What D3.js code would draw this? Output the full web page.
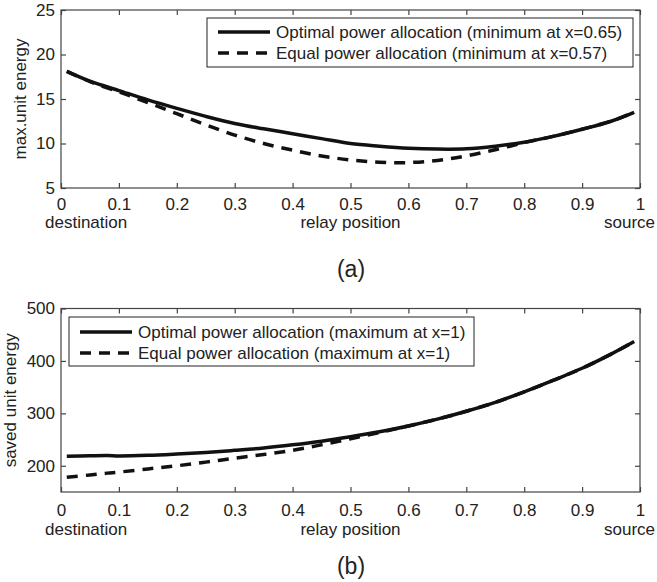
<!DOCTYPE html>
<html>
<head>
<meta charset="utf-8">
<script src="https://cdn.jsdelivr.net/npm/d3@7"></script>
<style>
  html, body { margin: 0; padding: 0; background: #fff; }
  svg { display: block; }
  text { font-family: "Liberation Sans", Arial, Helvetica, sans-serif; fill: #222; }
</style>
</head>
<body>
<svg id="chart" width="657" height="582"></svg>
<script>
// ---- Data ----
const xTicks = [0, 0.1, 0.2, 0.3, 0.4, 0.5, 0.6, 0.7, 0.8, 0.9, 1];
const xTickLabels = ["0", "0.1", "0.2", "0.3", "0.4", "0.5", "0.6", "0.7", "0.8", "0.9", "1"];

// Panel (a): max. unit energy
const aX = [0.01, 0.05, 0.1, 0.15, 0.2, 0.25, 0.3, 0.35, 0.4, 0.45, 0.5, 0.55, 0.6, 0.65, 0.7, 0.75, 0.8, 0.85, 0.9, 0.95, 0.99];
const aOptimal = [18.1, 17.0, 15.95, 14.9, 13.95, 13.05, 12.25, 11.65, 11.1, 10.55, 10.0, 9.7, 9.47, 9.37, 9.4, 9.7, 10.15, 10.8, 11.6, 12.5, 13.5];
const aEqual   = [18.1, 16.95, 15.8, 14.6, 13.35, 12.1, 10.95, 10.0, 9.25, 8.6, 8.15, 7.9, 7.86, 8.1, 8.6, 9.3, 10.1, 10.8, 11.6, 12.5, 13.5];
const aYTicks = [5, 10, 15, 20, 25];
const aLegend = ["Optimal power allocation (minimum at x=0.65)", "Equal power allocation (minimum at x=0.57)"];

// Panel (b): saved unit energy
const bX = [0.01, 0.05, 0.08, 0.1, 0.15, 0.2, 0.25, 0.3, 0.35, 0.4, 0.45, 0.5, 0.55, 0.6, 0.65, 0.7, 0.75, 0.8, 0.85, 0.9, 0.95, 0.99];
const bOptimal = [218, 219, 219.5, 218.8, 220, 222.5, 225.5, 229.5, 234, 240, 247, 255.5, 265, 276, 289, 304, 321, 341, 363, 386, 413, 437];
const bEqual   = [178, 182.5, 186, 188, 194, 200, 207, 214.5, 221.5, 229.5, 240, 251.5, 263.5, 276, 289, 304, 321, 341, 363, 386, 413, 437];
const bYTicks = [200, 300, 400, 500];
const bLegend = ["Optimal power allocation (maximum at x=1)", "Equal power allocation (maximum at x=1)"];

const svg = d3.select("#chart");
const FS = 17;

function panel(cfg) {
  const x = d3.scaleLinear().domain([0, 1]).range([61, 640]);
  const y = d3.scaleLinear().domain(cfg.yDomain).range([cfg.bottom, cfg.top]);
  const g = svg.append("g");

  g.append("rect").attr("x", x(0)).attr("y", cfg.top)
    .attr("width", x(1) - x(0)).attr("height", cfg.bottom - cfg.top)
    .attr("fill", "none").attr("stroke", "#444").attr("stroke-width", 1.2);

  const tl = 5;
  const xb = g.append("g").attr("transform", `translate(0,${cfg.bottom})`)
    .call(d3.axisBottom(x).tickValues(xTicks).tickSize(-tl).tickPadding(0)
      .tickFormat((d, i) => xTickLabels[i]));
  xb.select(".domain").remove();
  xb.selectAll("line").attr("stroke", "#444").attr("stroke-width", 1.2);
  xb.selectAll("text").attr("y", cfg.xLabelBase - cfg.bottom).attr("dy", 0)
    .attr("font-size", FS).style("fill", "#222")
    .attr("font-family", '"Liberation Sans", Arial, sans-serif');
  const xt = g.append("g").attr("transform", `translate(0,${cfg.top})`)
    .call(d3.axisTop(x).tickValues(xTicks).tickSize(-tl).tickFormat(""));
  xt.select(".domain").remove();
  xt.selectAll("line").attr("stroke", "#444").attr("stroke-width", 1.2);

  const yl = g.append("g").attr("transform", `translate(${x(0)},0)`)
    .call(d3.axisLeft(y).tickValues(cfg.yTicks).tickSize(-tl).tickPadding(6)
      .tickFormat(d3.format("d")));
  yl.select(".domain").remove();
  yl.selectAll("line").attr("stroke", "#444").attr("stroke-width", 1.2);
  yl.selectAll("text").attr("font-size", FS).style("fill", "#222")
    .attr("font-family", '"Liberation Sans", Arial, sans-serif');
  const yr = g.append("g").attr("transform", `translate(${x(1)},0)`)
    .call(d3.axisRight(y).tickValues(cfg.yTicks).tickSize(-tl).tickFormat(""));
  yr.select(".domain").remove();
  yr.selectAll("line").attr("stroke", "#444").attr("stroke-width", 1.2);

  const line = d3.line().x(d => x(d[0])).y(d => y(d[1])).curve(d3.curveCatmullRom.alpha(0.5));
  g.append("path").datum(cfg.xs.map((v, i) => [v, cfg.opt[i]]))
    .attr("d", line).attr("fill", "none").attr("stroke", "#111")
    .attr("stroke-width", 3.5).attr("stroke-linejoin", "round");
  g.append("path").datum(cfg.xs.map((v, i) => [v, cfg.eq[i]]))
    .attr("d", line).attr("fill", "none").attr("stroke", "#111")
    .attr("stroke-width", 3.5).attr("stroke-dasharray", "11,8");

  const L = cfg.legend;
  g.append("rect").attr("x", L.x0).attr("y", L.y0).attr("width", L.x1 - L.x0)
    .attr("height", L.y1 - L.y0).attr("fill", "#fff").attr("stroke", "#222").attr("stroke-width", 1);
  cfg.legendLabels.forEach((t, i) => {
    const ry = L.rows[i];
    g.append("line").attr("x1", L.lx0).attr("x2", L.lx1).attr("y1", ry).attr("y2", ry)
      .attr("stroke", "#111").attr("stroke-width", 3.5)
      .attr("stroke-dasharray", i === 1 ? "11,8" : null);
    g.append("text").attr("x", L.tx).attr("y", ry).attr("dy", "0.35em")
      .attr("font-size", FS).text(t);
  });

  g.append("text").attr("x", 45).attr("y", cfg.capBase).attr("font-size", FS).text("destination");
  g.append("text").attr("x", 350.5).attr("y", cfg.capBase).attr("text-anchor", "middle")
    .attr("font-size", FS).text("relay position");
  g.append("text").attr("x", 655).attr("y", cfg.capBase).attr("text-anchor", "end")
    .attr("font-size", FS).text("source");
  g.append("text").attr("transform", `translate(${cfg.yLabX},${(cfg.top + cfg.bottom) / 2}) rotate(-90)`)
    .attr("text-anchor", "middle").attr("font-size", FS).text(cfg.yLabel);
  g.append("text").attr("x", 351).attr("y", cfg.panelBase).attr("text-anchor", "middle")
    .attr("font-size", 23).text(cfg.panelLabel);
}

panel({
  yDomain: [5, 25], yTicks: aYTicks, top: 10, bottom: 188,
  xs: aX, opt: aOptimal, eq: aEqual,
  xLabelBase: 209.5, capBase: 228,
  legend: { x0: 207, x1: 633, y0: 18, y1: 67, rows: [32, 53], lx0: 218, lx1: 270, tx: 276 },
  legendLabels: aLegend,
  yLabel: "max.unit energy", yLabX: 26,
  panelLabel: "(a)", panelBase: 277
});

panel({
  yDomain: [150, 500], yTicks: bYTicks, top: 308.5, bottom: 492,
  xs: bX, opt: bOptimal, eq: bEqual,
  xLabelBase: 516, capBase: 535,
  legend: { x0: 69, x1: 474, y0: 317, y1: 366, rows: [332, 353], lx0: 80, lx1: 132, tx: 138 },
  legendLabels: bLegend,
  yLabel: "saved unit energy", yLabX: 16,
  panelLabel: "(b)", panelBase: 574
});
</script>
</body>
</html>
